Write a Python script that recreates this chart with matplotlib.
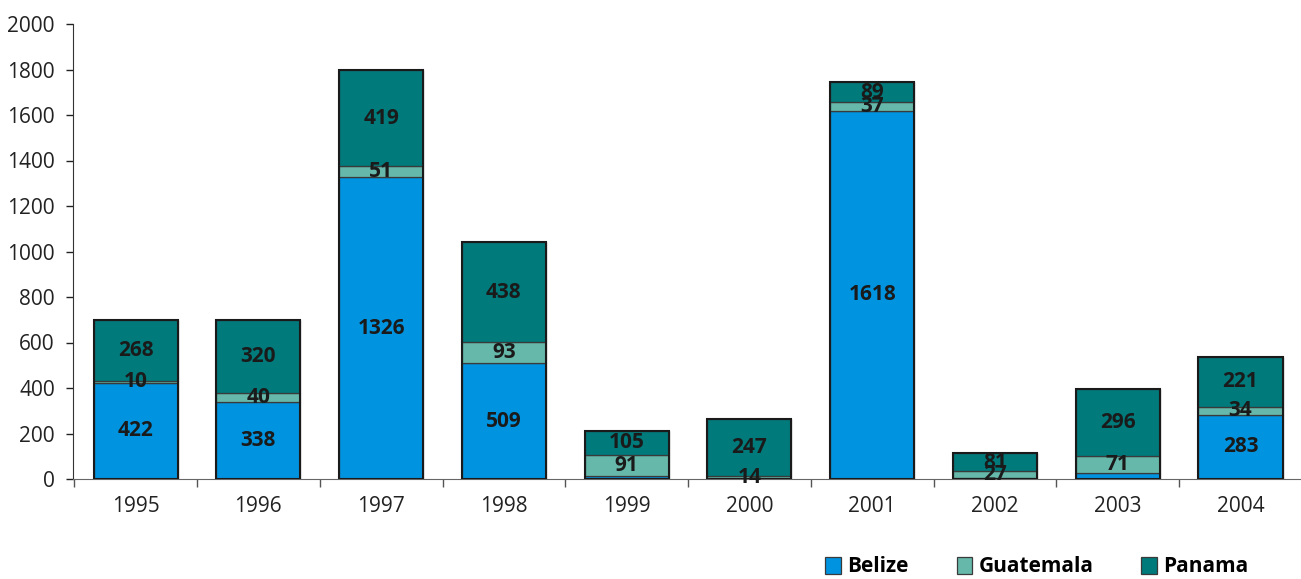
import matplotlib
matplotlib.use("Agg")
import matplotlib.pyplot as plt
import numpy as np

plt.rcParams['font.family'] = ['Open Sans', 'DejaVu Sans']

# datos
years = ['1995', '1996', '1997', '1998', '1999', '2000', '2001', '2002', '2003', '2004']
belize = [422, 338, 1326, 509, 15, 1, 1618, 6, 28, 283]
guatemala = [10, 40, 51, 93, 91, 14, 37, 27, 71, 34]
panama = [268, 320, 419, 438, 105, 247, 89, 81, 296, 221]

# etiquetas que se muestran (None = sin etiqueta)
belize_lbl = [422, 338, 1326, 509, None, None, 1618, None, None, 283]

series = [('Belize', belize, '#0093E0'),
          ('Guatemala', guatemala, '#66B8AA'),
          ('Panama', panama, '#007A7B')]

fig = plt.figure(figsize=(13.01, 5.79), dpi=100)
ax = fig.add_axes([73 / 1301, 100 / 579, (1308 - 73) / 1301, 455 / 579])

x = np.arange(len(years))
bottom = np.zeros(len(years))
for name, vals, col in series:
    vals = np.array(vals, dtype=float)
    ax.bar(x, vals, width=0.685, bottom=bottom, color=col, edgecolor='#3a3a3a',
           linewidth=0.9, label=name)
    for i, v in enumerate(vals):
        lbl = int(v)
        if name == 'Belize':
            lbl = belize_lbl[i]
        if lbl is None:
            continue
        ax.text(x[i], bottom[i] + v / 2, str(lbl), ha='center', va='center',
                fontsize=15, fontweight='bold', color='#1a1a1a', zorder=5)
    bottom += vals

# contorno exterior de cada columna
ax.bar(x, bottom, width=0.685, fill=False, edgecolor='#1a1a1a', linewidth=1.5, zorder=3)

ax.set_xlim(-0.51, len(years) - 0.45)
ax.set_ylim(0, 2000)
ax.set_yticks(range(0, 2001, 200))
ax.tick_params(axis='y', labelsize=15, colors='#222222', length=5, width=1,
               direction='out', pad=8)

# marcas del eje x entre categorias
ax.set_xticks(np.arange(len(years) + 1) - 0.5, minor=False)
ax.set_xticklabels([''] * (len(years) + 1))
ax.set_xticks(x, minor=True)
ax.set_xticklabels(years, minor=True)
ax.tick_params(axis='x', which='major', length=6, width=1, color='#555555')
ax.tick_params(axis='x', which='minor', length=0, labelsize=15,
               labelcolor='#222222', pad=12)

for s in ['top', 'right']:
    ax.spines[s].set_visible(False)
ax.spines['left'].set_color('#333333')
ax.spines['bottom'].set_color('#666666')

fig.legend(loc='center', bbox_to_anchor=(1037 / 1301, 1 - 567 / 579), ncol=3,
           frameon=False, prop={'weight': 'bold', 'size': 15},
           handlelength=0.75, handleheight=0.9, handletextpad=0.3,
           columnspacing=2.3, borderaxespad=0)

fig.savefig('out.png', dpi=100)
